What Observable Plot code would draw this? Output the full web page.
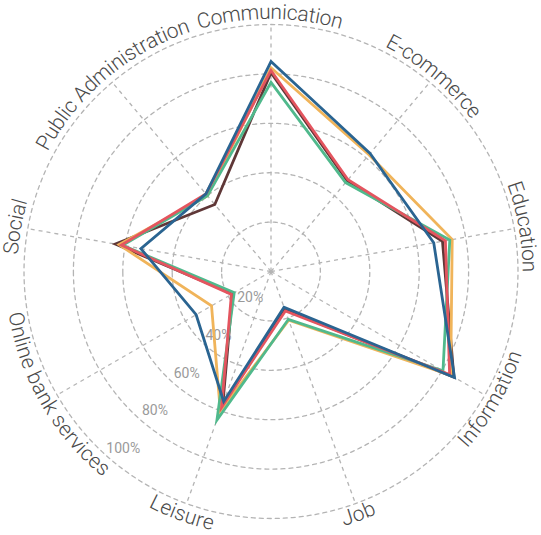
<!DOCTYPE html>
<html>
<head>
<meta charset="utf-8">
<script src="https://cdn.jsdelivr.net/npm/d3@7"></script>
<script src="https://cdn.jsdelivr.net/npm/@observablehq/plot@0.6"></script>
<style>
  html, body { margin: 0; padding: 0; background: #ffffff; }
</style>
</head>
<body>
<div id="chart"></div>
<script>
// ---- data ----
const axes = ["Communication", "E-commerce", "Education", "Information", "Job",
              "Leisure", "Online bank services", "Social", "Public Administration"];
const ticks = [20, 40, 60, 80, 100];
const seriesNames = ["Series E", "Series A", "Series B", "Series C", "Series D"];
const seriesColors = ["#5f3737", "#f0b45a", "#50b98c", "#e4555f", "#2a6491"];
// values in %, same order as axes
const seriesE = [80.5, 48.0, 70.5, 85.5, 16.5, 57.0, 18.0, 64.0, 35.4];
const seriesA = [82.5, 61.7, 74.5, 84.0, 21.0, 60.0, 27.8, 62.5, 40.0];
const seriesB = [76.6, 47.0, 73.5, 80.4, 20.6, 64.0, 17.2, 61.0, 40.0];
const seriesC = [81.4, 48.5, 71.7, 83.5, 17.0, 58.5, 18.5, 61.5, 41.0];
const seriesD = [85.0, 62.4, 66.9, 85.8, 15.4, 56.0, 35.0, 53.5, 41.0];
const seriesValues = [seriesE, seriesA, seriesB, seriesC, seriesD];

// ---- helpers (polar -> lon/lat on a tiny cap around the pole) ----
const step = 360 / axes.length;
const angleOf = (i) => i * step;            // degrees clockwise from top
const lonOf = (a) => 180 - a;               // azimuthal view of north pole
const latOf = (v) => 90 - v / 100;          // 100% = 1 degree from pole

const series = seriesNames.map((name, k) => {
  let ring = seriesValues[k].map((v, i) => [lonOf(angleOf(i)), latOf(v)]);
  ring.push(ring[0]);
  let poly = {type: "Polygon", coordinates: [ring]};
  if (d3.geoArea(poly) > 2 * Math.PI) {
    ring = ring.slice().reverse();
    poly = {type: "Polygon", coordinates: [ring]};
  }
  return {name, poly};
});

// curved axis labels: one text datum per character
const labelFont = 21;
const ctx = document.createElement("canvas").getContext("2d");
ctx.font = `300 ${labelFont}px Roboto`;
const chars = [];
axes.forEach((label, i) => {
  const theta = angleOf(i);
  const flip = theta > 90 && theta < 270;
  const rel = flip ? 1.045 : 1.05;           // label radius relative to 100%
  const rPx = rel * 247;
  const letters = [...label];
  const widths = letters.map((c) => ctx.measureText(c).width);
  const total = d3.sum(widths);
  let cum = 0;
  letters.forEach((c, j) => {
    const s = (cum + widths[j] / 2 - total / 2) / rPx * 180 / Math.PI;
    const a = flip ? theta - s : theta + s;
    chars.push({ch: c, lon: lonOf(a), lat: 90 - rel, rotate: flip ? a - 180 : a});
    cum += widths[j];
  });
});

const gridColor = "#b4b4b4";

const chart = Plot.plot({
  width: 541,
  height: 535,
  marginLeft: 23.5,
  marginRight: 23.5,
  marginTop: 24,
  marginBottom: 17,
  style: {fontFamily: "Roboto", background: "#ffffff"},
  projection: {
    type: "azimuthal-equidistant",
    rotate: [0, -90],
    domain: d3.geoCircle().center([0, 90]).radius(1).precision(1)(),
    clip: false
  },
  color: {domain: seriesNames, range: seriesColors},
  marks: [
    Plot.geo(ticks, {
      geometry: (t) => d3.geoCircle().center([0, 90]).radius(t / 100).precision(1)(),
      fill: "none",
      stroke: gridColor,
      strokeWidth: 1.3,
      strokeDasharray: "4,4"
    }),
    Plot.link(axes, {
      x1: 0, y1: 90,
      x2: (d, i) => lonOf(angleOf(i)),
      y2: latOf(100),
      stroke: gridColor,
      strokeWidth: 1.3,
      strokeDasharray: "4,4"
    }),
    Plot.text(ticks, {
      x: lonOf(220),
      y: (t) => latOf(t),
      text: (t) => `${t}%`,
      dx: 11,
      dy: -12,
      fill: "#9a9a9a",
      fontSize: 14,
      fontFamily: "Roboto"
    }),
    Plot.geo(series, {
      geometry: (d) => d.poly,
      fill: "none",
      stroke: (d) => d.name,
      strokeWidth: 2.8,
      strokeLinejoin: "miter",
      strokeMiterlimit: 10
    }),
    Plot.text(chars, {
      x: "lon",
      y: "lat",
      text: "ch",
      rotate: "rotate",
      dx: -1,
      fontSize: labelFont,
      fontWeight: 300,
      fontFamily: "Roboto",
      fill: "#4a4a4a",
      textAnchor: "middle"
    })
  ]
});
document.getElementById("chart").appendChild(chart);
</script>
</body>
</html>
